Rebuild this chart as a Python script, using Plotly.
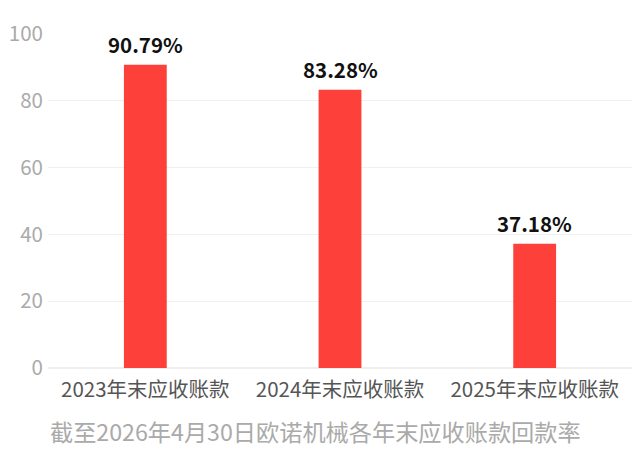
import plotly.graph_objects as go

categories = ["2023年末应收账款", "2024年末应收账款", "2025年末应收账款"]
values = [90.79, 83.28, 37.18]
labels = ["90.79%", "83.28%", "37.18%"]
title_text = "截至2026年4月30日欧诺机械各年末应收账款回款率"

FONT = "Noto Sans CJK SC"

fig = go.Figure(go.Bar(
    x=categories, y=values,
    marker=dict(color="#fd403a", line=dict(width=0)),
    cliponaxis=False, hoverinfo="x+y",
))

annotations = [
    dict(x=c, y=v, text=t, xref="x", yref="y", showarrow=False,
         xanchor="center", yanchor="middle", yshift=21,
         font=dict(family=FONT, size=20.5, color="#111111", weight="bold"))
    for c, v, t in zip(categories, values, labels)
]
annotations.append(dict(text=title_text, xref="paper", yref="paper",
                        x=0.458, y=-0.19, xanchor="center", yanchor="middle",
                        showarrow=False,
                        font=dict(family=FONT, size=23.2, color="#aaaaaa")))

fig.update_layout(
    width=632, height=445,
    margin=dict(l=40, r=8, t=26, b=85, autoexpand=False),
    paper_bgcolor="white", plot_bgcolor="white",
    bargap=0.78,
    showlegend=False,
    font=dict(family=FONT),
    xaxis=dict(showgrid=False, showline=False, ticks="", automargin=False,
               ticklabelstandoff=7,
               tickfont=dict(family=FONT, size=20.5, color="#555555")),
    yaxis=dict(range=[0, 100], dtick=20, showgrid=True, gridcolor="#f0f0f0",
               gridwidth=1, zeroline=True, zerolinecolor="#eeeeee",
               automargin=False,
               tickfont=dict(family=FONT, size=20.5, color="#aaaaaa"),
               ticklabelstandoff=4),
    annotations=annotations,
)

fig.write_html("out.html")
